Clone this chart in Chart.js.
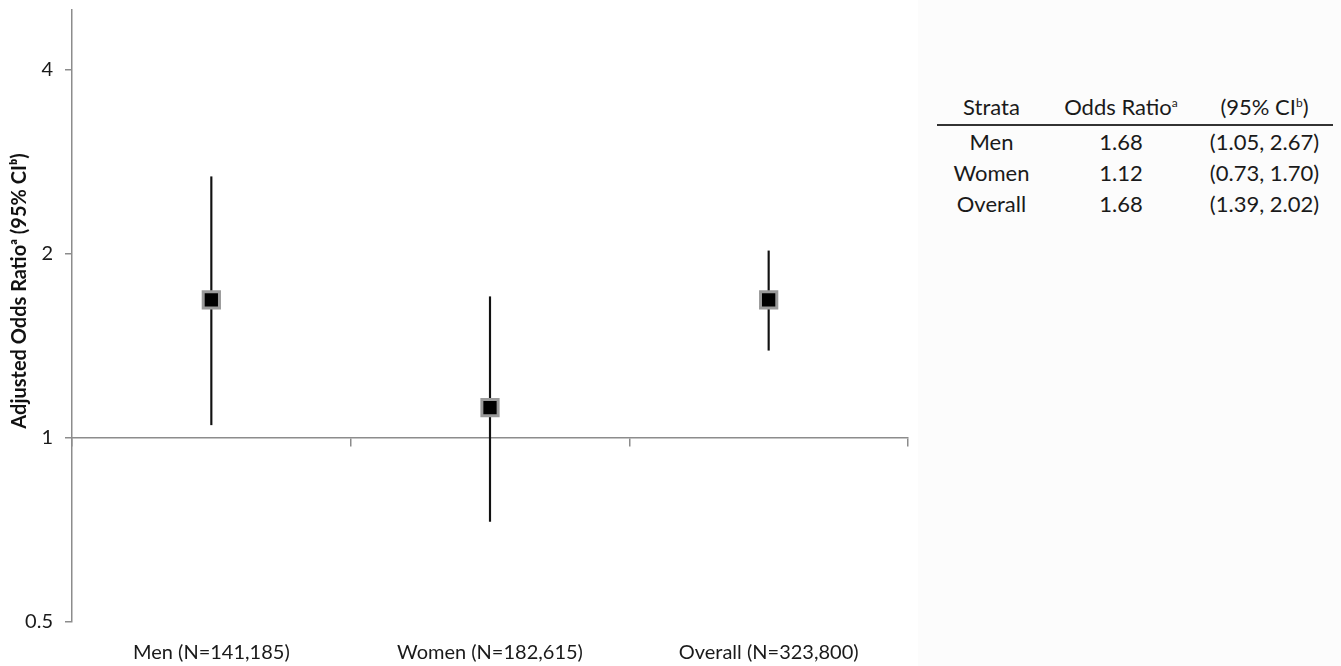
<!DOCTYPE html>
<html>
<head>
<meta charset="utf-8">
<script src="https://cdn.jsdelivr.net/npm/chart.js@4.4.1/dist/chart.umd.min.js"></script>
<style>
  html, body { margin: 0; padding: 0; background: #fff; }
  body { width: 1341px; height: 666px; position: relative; overflow: hidden; font-family: Lato, 'DejaVu Sans', sans-serif; }
  #chartBox { position: absolute; left: 0; top: 0; width: 918px; height: 666px; }
  #side { position: absolute; left: 918px; top: 0; width: 423px; height: 666px; background: #fcfcfc; }
  #side table { position: absolute; left: 19px; top: 88px; border-collapse: collapse; font-size: 22px; color: #1a1a1a; }
  #side th { font-weight: normal; height: 36px; padding: 0; vertical-align: middle; border-bottom: 2px solid #333; }
  #side td { height: 31px; padding: 0; text-align: center; vertical-align: middle; }
  #side sup { font-size: 12px; }
  .c1 { width: 109px; text-align: center; }
  .c2 { width: 150px; text-align: center; }
  .c3 { width: 137px; text-align: center; }
</style>
</head>
<body>
<div id="chartBox"><canvas id="orChart" width="918" height="666"></canvas></div>
<div id="side">
  <table>
    <thead>
      <tr><th class="c1">Strata</th><th class="c2">Odds Ratio<sup>a</sup></th><th class="c3">(95% CI<sup>b</sup>)</th></tr>
    </thead>
    <tbody id="tableBody"></tbody>
  </table>
</div>
<script>
// values
const categories = ['Men (N=141,185)', 'Women (N=182,615)', 'Overall (N=323,800)'];
const strata = ['Men', 'Women', 'Overall'];
const oddsRatios = [1.68, 1.12, 1.68];
const ciLower = [1.05, 0.73, 1.39];
const ciUpper = [2.67, 1.70, 2.02];
const yTicks = [0.5, 1, 2, 4];

// side table
const body = document.getElementById('tableBody');
strata.forEach((s, i) => {
  const tr = document.createElement('tr');
  tr.innerHTML = `<td class="c1">${s}</td><td class="c2">${oddsRatios[i].toFixed(2)}</td>` +
    `<td class="c3">(${ciLower[i].toFixed(2)}, ${ciUpper[i].toFixed(2)})</td>`;
  body.appendChild(tr);
});

Chart.defaults.font.family = "Lato, 'DejaVu Sans', sans-serif";
const axisGray = '#8c8c8c';

// keep tick label overhang from shrinking the plot area
const noPad = s => { s.paddingTop = 0; s.paddingBottom = 0; s.paddingLeft = 0; s.paddingRight = 0; };

const ctx = document.getElementById('orChart').getContext('2d');
new Chart(ctx, {
  type: 'bar',
  data: {
    labels: categories,
    datasets: [
      {
        type: 'line',
        label: 'Odds ratio',
        data: oddsRatios,
        showLine: false,
        pointStyle: 'rect',
        pointRadius: 11.5,
        pointHoverRadius: 11.5,
        pointBackgroundColor: '#000',
        pointBorderColor: '#9a9a9a',
        pointBorderWidth: 3,
        order: 0
      },
      {
        type: 'bar',
        label: '95% CI',
        data: ciLower.map((lo, i) => [lo, ciUpper[i]]),
        backgroundColor: '#111',
        barThickness: 1.5,
        grouped: false,
        order: 1
      }
    ]
  },
  options: {
    responsive: false,
    animation: false,
    layout: { autoPadding: false, padding: { top: 10, right: 10, left: 0, bottom: 0 } },
    plugins: { legend: { display: false }, tooltip: { enabled: false } },
    scales: {
      x: {
        type: 'category',
        position: 'bottom',
        offset: true,
        grid: { display: false },
        border: { display: false },
        ticks: { padding: 11, color: '#1a1a1a', font: { size: 20 }, maxRotation: 0 },
        afterFit: s => { s.height = 44; noPad(s); }
      },
      // reference line at OR = 1 with tick marks between strata
      xLine: {
        type: 'category',
        position: { y: 1 },
        offset: true,
        grid: { drawOnChartArea: false, drawTicks: true, tickLength: 8, color: axisGray, lineWidth: 1.5, offset: true },
        border: { color: axisGray, width: 1.5 },
        ticks: { display: false },
        afterFit: noPad
      },
      y: {
        type: 'logarithmic',
        min: 0.5,
        max: 5,
        afterBuildTicks: s => { s.ticks = yTicks.map(v => ({ value: v })); },
        ticks: { callback: v => String(v), color: '#1a1a1a', font: { size: 20 }, padding: 12 },
        grid: { drawOnChartArea: false, tickLength: 7, color: axisGray, lineWidth: 1.5 },
        border: { color: axisGray, width: 1.5 },
        title: {
          display: true,
          text: '\u2002\u2002\u2002\u2002\u2002Adjusted Odds Ratioᵃ (95% CIᵇ)',
          color: '#111',
          font: { size: 20, weight: 'bold' },
          padding: { top: 8, bottom: 0 }
        },
        afterFit: s => { s.width = 72; noPad(s); }
      }
    }
  }
});
</script>
</body>
</html>
